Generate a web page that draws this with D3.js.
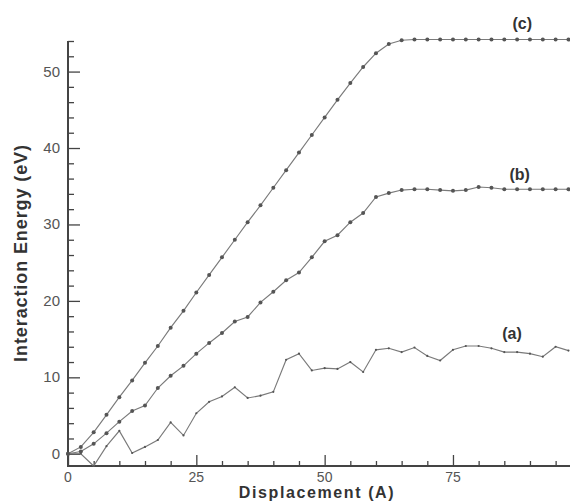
<!DOCTYPE html>
<html>
<head>
<meta charset="utf-8">
<script src="https://cdn.jsdelivr.net/npm/d3@7"></script>
<style>
  body { margin: 0; background: #fff; }
  svg { display: block; font-family: "Liberation Sans", Arial, sans-serif; }
</style>
</head>
<body>
<div id="chart"></div>
<script>
const displacement = [0, 2.5, 5, 7.5, 10, 12.5, 15, 17.5, 20, 22.5, 25, 27.5, 30, 32.5, 35, 37.5, 40, 42.5, 45, 47.5,
  50, 52.5, 55, 57.5, 60, 62.5, 65, 67.5, 70, 72.5, 75, 77.5, 80, 82.5, 85, 87.5, 90, 92.5, 95, 97.5];

const energyA = [0, 0, -1.6, 1.0, 3.0, 0.1, 0.9, 1.8, 4.1, 2.4, 5.3, 6.8, 7.5, 8.7, 7.3, 7.6, 8.1, 12.3, 13.1, 10.9,
  11.2, 11.1, 12.0, 10.7, 13.6, 13.8, 13.3, 13.9, 12.8, 12.2, 13.6, 14.1, 14.1, 13.8, 13.3, 13.3, 13.1, 12.7, 14.0, 13.5];

const energyB = [0, 0.3, 1.3, 2.7, 4.2, 5.6, 6.3, 8.6, 10.2, 11.5, 13.1, 14.5, 15.8, 17.3, 17.9, 19.8, 21.2, 22.7, 23.7, 25.7,
  27.8, 28.6, 30.3, 31.5, 33.6, 34.1, 34.5, 34.6, 34.6, 34.5, 34.4, 34.5, 34.9, 34.8, 34.6, 34.6, 34.6, 34.6, 34.6, 34.6];

const energyC = [0, 0.9, 2.8, 5.1, 7.4, 9.6, 11.9, 14.1, 16.5, 18.7, 21.1, 23.4, 25.7, 28.0, 30.3, 32.5, 34.8, 37.1, 39.4, 41.7,
  44.0, 46.3, 48.5, 50.6, 52.4, 53.6, 54.1, 54.2, 54.2, 54.2, 54.2, 54.2, 54.2, 54.2, 54.2, 54.2, 54.2, 54.2, 54.2, 54.2];

const xTicks = [0, 25, 50, 75];
const yTicks = [0, 10, 20, 30, 40, 50];
const xMinor = [5, 10, 15, 20, 30, 35, 40, 45, 55, 60, 65, 70, 80, 85, 90, 95];
const yMinor = [2, 4, 6, 8, 12, 14, 16, 18, 22, 24, 26, 28, 32, 34, 36, 38, 42, 44, 46, 48, 52, 54];

const seriesLabels = ["(a)", "(b)", "(c)"];
const labelAt = [[86.5, 15.0], [88, 35.8], [88.5, 55.6]];

const width = 570, height = 503;
const svg = d3.select("#chart").append("svg")
  .attr("width", width)
  .attr("height", height);

const x = d3.scaleLinear().domain([0, 97.8]).range([68, 570]);
const y = d3.scaleLinear().domain([-1.6, 54]).range([466, 41]);

const axisColor = "#444";

// axes: ticks drawn inward
const xAxis = svg.append("g").attr("transform", `translate(0,${y(-1.6)})`);
xAxis.call(d3.axisTop(x).tickValues(xTicks).tickSize(11).tickFormat(""));
xAxis.append("g").call(d3.axisTop(x).tickValues(xMinor).tickSize(5).tickFormat(""));
xAxis.selectAll("path.domain").remove();
xAxis.selectAll("line").attr("stroke", axisColor).attr("stroke-width", 1.3);

const yAxis = svg.append("g").attr("transform", `translate(${x(0)},0)`);
yAxis.call(d3.axisRight(y).tickValues(yTicks).tickSize(12).tickFormat(""));
yAxis.append("g").call(d3.axisRight(y).tickValues(yMinor).tickSize(6).tickFormat(""));
yAxis.selectAll("path.domain").remove();
yAxis.selectAll("line").attr("stroke", axisColor).attr("stroke-width", 1.3);

svg.append("line")
  .attr("x1", x(0)).attr("x2", 570)
  .attr("y1", y(-1.6)).attr("y2", y(-1.6))
  .attr("stroke", axisColor).attr("stroke-width", 2);
svg.append("line")
  .attr("x1", x(0)).attr("x2", x(0))
  .attr("y1", y(-1.6) + 1).attr("y2", y(54))
  .attr("stroke", axisColor).attr("stroke-width", 2);

// tick labels
svg.append("g").selectAll("text")
  .data(xTicks).join("text")
  .attr("x", d => x(d))
  .attr("y", 482)
  .attr("text-anchor", "middle")
  .attr("font-size", 14)
  .attr("fill", "#555")
  .text(d => d);

svg.append("g").selectAll("text")
  .data(yTicks).join("text")
  .attr("x", 60)
  .attr("y", d => y(d) + 5)
  .attr("text-anchor", "end")
  .attr("font-size", 15)
  .attr("fill", "#555")
  .text(d => d);

// axis titles
svg.append("text")
  .attr("x", 317)
  .attr("y", 498)
  .attr("text-anchor", "middle")
  .attr("font-size", 16)
  .attr("font-weight", "bold")
  .attr("letter-spacing", 1.6)
  .attr("fill", "#333")
  .text("Displacement (A)");

svg.append("text")
  .attr("transform", "translate(27,253) rotate(-90)")
  .attr("text-anchor", "middle")
  .attr("font-size", 18)
  .attr("font-weight", "bold")
  .attr("letter-spacing", 0.9)
  .attr("fill", "#333")
  .text("Interaction Energy (eV)");

// series
const series = [energyA, energyB, energyC];
const radius = [1.1, 2, 2];
const line = d3.line()
  .x((d, i) => x(displacement[i]))
  .y(d => y(d));

series.forEach((vals, k) => {
  svg.append("path")
    .datum(vals)
    .attr("d", line)
    .attr("fill", "none")
    .attr("stroke", "#7a7a7a")
    .attr("stroke-width", 1.15);

  svg.append("g").selectAll("circle")
    .data(vals).join("circle")
    .attr("cx", (d, i) => x(displacement[i]))
    .attr("cy", d => y(d))
    .attr("r", radius[k])
    .attr("fill", "#555");
});

svg.append("g").selectAll("text")
  .data(seriesLabels).join("text")
  .attr("x", (d, i) => x(labelAt[i][0]))
  .attr("y", (d, i) => y(labelAt[i][1]))
  .attr("text-anchor", "middle")
  .attr("font-size", 16)
  .attr("font-weight", "bold")
  .attr("fill", "#333")
  .text(d => d);
</script>
</body>
</html>
